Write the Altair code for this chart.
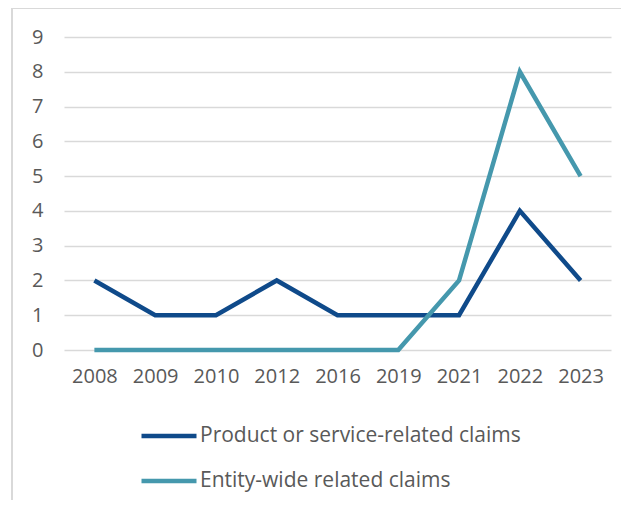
import altair as alt
import pandas as pd

years = ["2008", "2009", "2010", "2012", "2016", "2019", "2021", "2022", "2023"]
product_claims = [2, 1, 1, 2, 1, 1, 1, 4, 2]
entity_claims = [0, 0, 0, 0, 0, 0, 2, 8, 5]
series_names = ["Product or service-related claims", "Entity-wide related claims"]
series_colors = ["#0F4A8A", "#4598AD"]

rows = []
for y, v in zip(years, product_claims):
    rows.append({"year": y, "value": v, "series": series_names[0]})
for y, v in zip(years, entity_claims):
    rows.append({"year": y, "value": v, "series": series_names[1]})
df = pd.DataFrame(rows)

FONT = "Open Sans"
GRAY = "#595959"

lines = alt.Chart(df).mark_line(strokeWidth=4.5, strokeJoin="miter").encode(
    x=alt.X("year:N", sort=years, title=None,
            scale=alt.Scale(paddingInner=0, paddingOuter=0.5),
            axis=alt.Axis(labelAngle=0, ticks=False, domain=False, grid=False,
                          labelFont=FONT, labelFontSize=20, labelColor=GRAY,
                          labelPadding=16)),
    y=alt.Y("value:Q", title=None,
            scale=alt.Scale(domain=[0, 9], nice=False),
            axis=alt.Axis(values=list(range(10)), ticks=False, domain=False,
                          grid=True, gridColor="#D9D9D9", gridWidth=1.5,
                          labelFont=FONT, labelFontSize=20, labelColor=GRAY,
                          labelPadding=21)),
    color=alt.Color("series:N", sort=series_names,
                    scale=alt.Scale(domain=series_names, range=series_colors),
                    legend=alt.Legend(title=None, orient="none", legendX=75, legendY=369,
                                      direction="vertical", symbolType="stroke",
                                      symbolSize=3025, symbolStrokeWidth=4.5,
                                      labelFont=FONT, labelFontSize=21, labelColor=GRAY,
                                      labelOffset=1, rowPadding=5, labelLimit=500)),
    order=alt.Order("series:N"),
)

frame_left = alt.Chart(df).mark_rule(color="#D9D9D9", strokeWidth=1.5).encode(
    x=alt.value(-52), y=alt.value(-29), y2=alt.value(500))
frame_top = alt.Chart(df).mark_rule(color="#D9D9D9", strokeWidth=1.5).encode(
    x=alt.value(-52), x2=alt.value(620), y=alt.value(-29))

chart = alt.layer(frame_left, frame_top, lines).properties(
    width=547, height=313,
    background="white",
    autosize=alt.AutoSizeParams(type="none"),
    padding={"left": 56, "top": 29, "right": 10, "bottom": 150},
).configure_view(strokeWidth=0)

chart.save("out.html", embed_options={"renderer": "svg", "actions": False})
